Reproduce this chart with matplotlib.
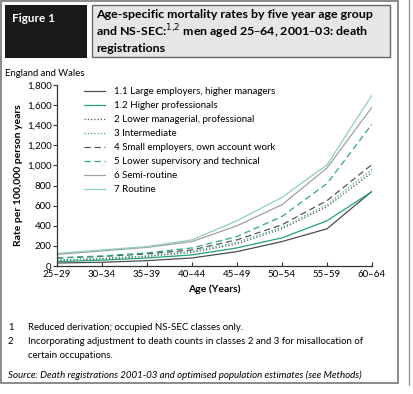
import numpy as np
import matplotlib
matplotlib.use('Agg')
import matplotlib.pyplot as plt
from matplotlib.patches import Rectangle
from matplotlib.lines import Line2D

plt.rcParams['font.family'] = ['Lato', 'DejaVu Sans']

W, H = 413, 394

# age groups and rates per 100,000 person years
ages = ['25–29', '30–34', '35–39', '40–44', '45–49', '50–54', '55–59', '60–64']
c11 = [30, 37, 53, 80, 143, 243, 370, 743]
c12 = [43, 58, 80, 110, 180, 280, 450, 740]
c2 = [55, 70, 95, 135, 220, 370, 590, 930]
c3 = [60, 78, 100, 145, 235, 385, 610, 960]
c4 = [80, 95, 120, 160, 260, 410, 650, 1010]
c5 = [80, 100, 130, 180, 293, 493, 820, 1410]
c6 = [115, 150, 185, 243, 400, 610, 975, 1580]
c7 = [125, 160, 193, 260, 450, 683, 1005, 1700]

labels = ['1.1 Large employers, higher managers', '1.2 Higher professionals',
          '2 Lower managerial, professional', '3 Intermediate',
          '4 Small employers, own account work', '5 Lower supervisory and technical',
          '6 Semi-routine', '7 Routine']
series = [c11, c12, c2, c3, c4, c5, c6, c7]
colors = ['#4d4d4d', '#22a374', '#555555', '#3aae84', '#555555', '#2fa87a', '#a0a0a0', '#8fd0b6']
styles = ['-', '-', (0, (1, 1.6)), (0, (1, 1.6)), (0, (5, 3)), (0, (5, 3)), '-', '-']


def fx(px):
    return px / W


def fy(py):
    return 1 - py / H


fig = plt.figure(figsize=(W / 100, H / 100), dpi=100)

# frame and page lines
fig.add_artist(Rectangle((fx(1), fy(383)), fx(397), 382 / H, transform=fig.transFigure,
                         fill=False, ec='#777777', lw=1.2))
fig.add_artist(Line2D([fx(409), fx(409)], [fy(0), fy(385)], transform=fig.transFigure,
                      color='#999999', lw=1))

# header boxes
fig.add_artist(Rectangle((fx(5), fy(58)), fx(82), 53 / H, transform=fig.transFigure,
                         fc='#1a1a1a', ec='none'))
fig.add_artist(Rectangle((fx(92), fy(57)), fx(298), 52 / H, transform=fig.transFigure,
                         fc='#e6e6e6', ec='#666666', lw=1))
fig.text(fx(12), fy(19), 'Figure 1', color='white', fontsize=8.5, fontweight='bold',
         va='center', ha='left')
fig.text(fx(96), fy(9), 'Age-specific mortality rates by five year age group\n'
         'and NS-SEC:$^{1{,}2}$ men aged 25–64, 2001–03: death\nregistrations',
         fontsize=8.9, fontweight='bold', va='top', ha='left', linespacing=1.2)
fig.text(fx(5), fy(73), 'England and Wales', fontsize=6.8, va='center', ha='left')

ax = fig.add_axes([fx(57), fy(266), fx(372 - 57), (266 - 85) / H])
x = np.arange(len(ages))
for s, lab, c, ls in zip(series, labels, colors, styles):
    ax.plot(x, s, color=c, ls=ls, lw=0.9, label=lab)

ax.set_xlim(0, len(ages) - 1)
ax.set_ylim(0, 1800)
ax.set_xticks(x)
ax.set_xticklabels(ages)
ax.set_yticks(np.arange(0, 1801, 200))
ax.set_yticklabels([f'{v:,}' for v in range(0, 1801, 200)])
for sp in ['top', 'right']:
    ax.spines[sp].set_visible(False)
for sp in ['left', 'bottom']:
    ax.spines[sp].set_color('#333333')
    ax.spines[sp].set_linewidth(0.9)
ax.tick_params(axis='x', direction='in', length=3, labelsize=7, pad=3, color='#333333')
ax.tick_params(axis='y', direction='out', length=3, labelsize=7, pad=1, color='#333333')
ax.set_xlabel('Age (Years)', fontsize=7.5, fontweight='bold', labelpad=4)
ax.set_ylabel('Rate per 100,000 person years', fontsize=7.5, fontweight='bold', labelpad=3)

ax.legend(loc='upper left', bbox_to_anchor=(fx(84), fy(87)), bbox_transform=fig.transFigure,
          frameon=False, fontsize=7, handlelength=2.2, handletextpad=0.9,
          labelspacing=0.52, borderpad=0, borderaxespad=0)

# footnotes
fs = 6.9
fig.text(fx(8), fy(327), '1', fontsize=fs, va='center')
fig.text(fx(28), fy(327), 'Reduced derivation; occupied NS-SEC classes only.', fontsize=fs, va='center')
fig.text(fx(8), fy(341), '2', fontsize=fs, va='center')
fig.text(fx(28), fy(341), 'Incorporating adjustment to death counts in classes 2 and 3 for misallocation of',
         fontsize=fs, va='center')
fig.text(fx(28), fy(355), 'certain occupations.', fontsize=fs, va='center')
fig.text(fx(8), fy(375), 'Source: Death registrations 2001-03 and optimised population estimates (see Methods)',
         fontsize=7.05, style='italic', va='center')

fig.savefig('out.png', dpi=100)
